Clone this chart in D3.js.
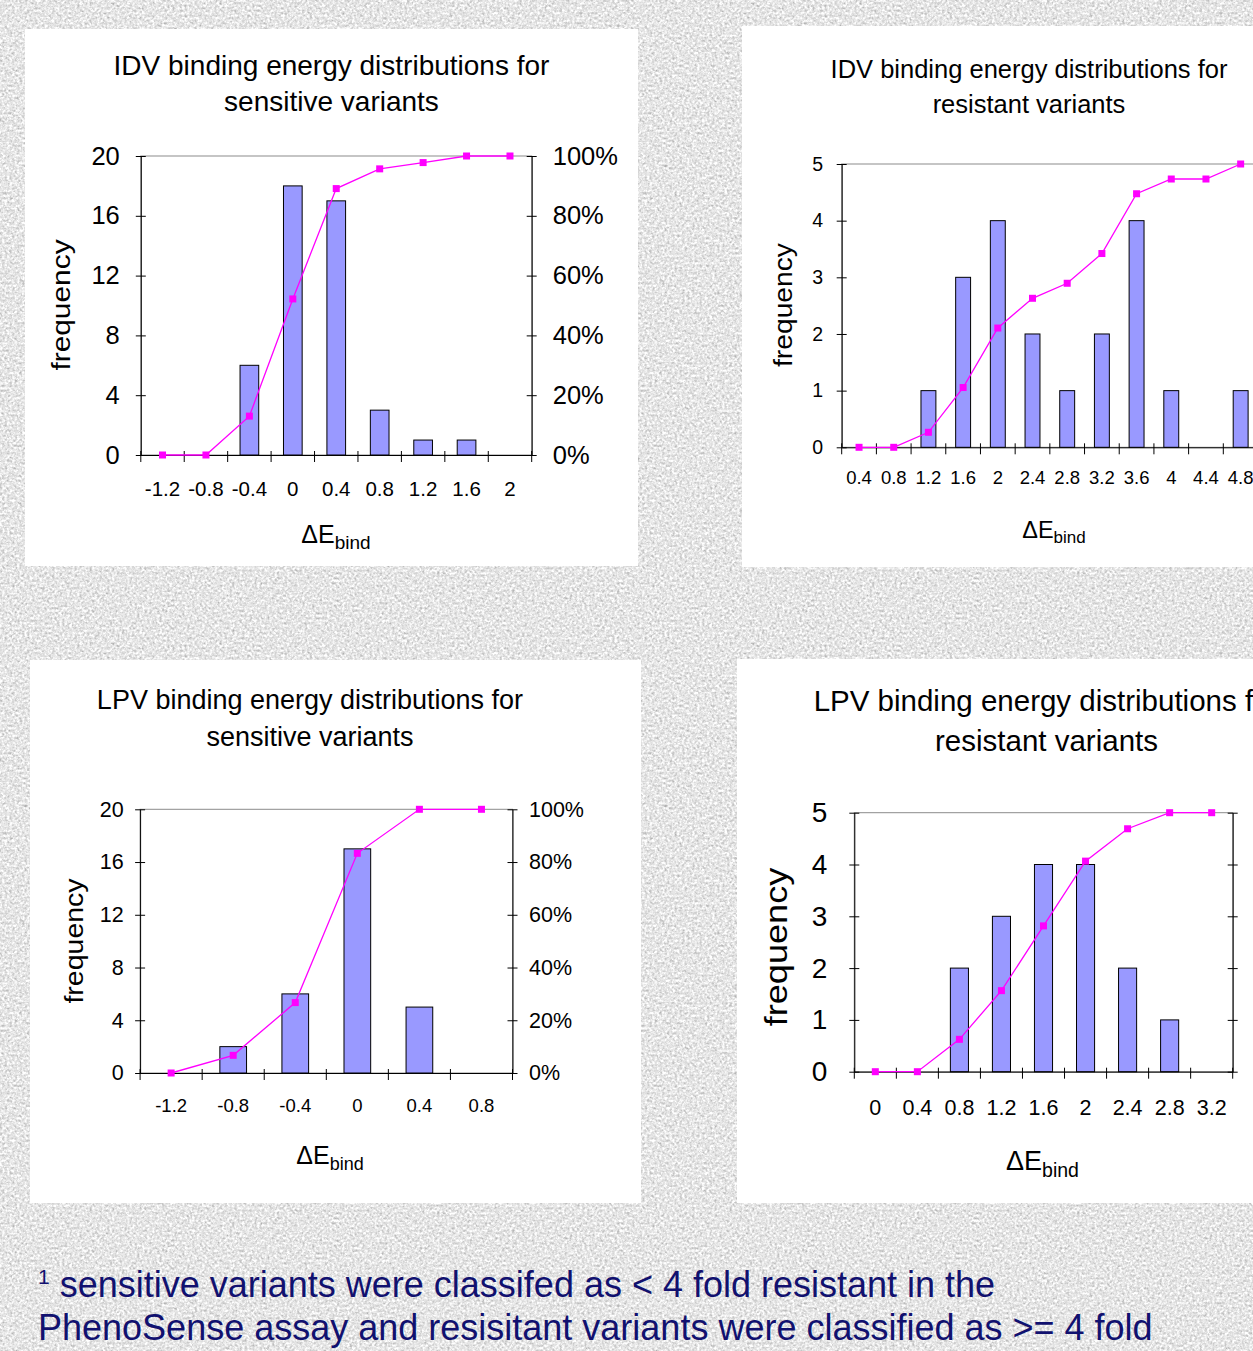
<!DOCTYPE html>
<html>
<head>
<meta charset="utf-8">
<script src="https://cdn.jsdelivr.net/npm/d3@7"></script>
<style>
  body { margin: 0; background: #e6e6e6; }
  svg { display: block; overflow: hidden; }
  text { font-family: "Liberation Sans", Arial, sans-serif; }
</style>
</head>
<body>
<svg id="slide" width="1253" height="1351"></svg>
<script>
// IDV, sensitive variants
const idvSensCats = ['-1.2', '-0.8', '-0.4', '0', '0.4', '0.8', '1.2', '1.6', '2'];
const idvSensFreq = [0, 0, 6, 18, 17, 3, 1, 1, 0];
const idvSensCum  = [0, 0, 13.0, 52.2, 89.1, 95.7, 97.8, 100, 100];

// IDV, resistant variants
const idvResCats = ['0.4', '0.8', '1.2', '1.6', '2', '2.4', '2.8', '3.2', '3.6', '4', '4.4', '4.8'];
const idvResFreq = [0, 0, 1, 3, 4, 2, 1, 2, 4, 1, 0, 1];
const idvResCum  = [0, 0, 5.3, 21.1, 42.1, 52.6, 57.9, 68.4, 89.5, 94.7, 94.7, 100];

// LPV, sensitive variants
const lpvSensCats = ['-1.2', '-0.8', '-0.4', '0', '0.4', '0.8'];
const lpvSensFreq = [0, 2, 6, 17, 5, 0];
const lpvSensCum  = [0, 6.7, 26.7, 83.3, 100, 100];

// LPV, resistant variants
const lpvResCats = ['0', '0.4', '0.8', '1.2', '1.6', '2', '2.4', '2.8', '3.2'];
const lpvResFreq = [0, 0, 2, 3, 4, 4, 2, 1, 0];
const lpvResCum  = [0, 0, 12.5, 31.3, 56.3, 81.3, 93.8, 100, 100];

const freqTicks20 = [0, 4, 8, 12, 16, 20];
const freqTicks5  = [0, 1, 2, 3, 4, 5];
const pctTicks    = [0, 20, 40, 60, 80, 100];

const footLines = [
    'sensitive variants were classifed as < 4 fold resistant in the',
    'PhenoSense assay and resisitant variants were classified as >= 4 fold'
];

const FONT = '"Liberation Sans", Arial, sans-serif';
const BAR = '#9999FF';
const CUM = '#FF00FF';

const svg = d3.select('#slide');

// granite-like slide background
const filt = svg.append('defs').append('filter')
    .attr('id', 'granite')
    .attr('x', 0).attr('y', 0).attr('width', '100%').attr('height', '100%')
    .attr('color-interpolation-filters', 'sRGB');
filt.append('feTurbulence')
    .attr('type', 'fractalNoise')
    .attr('baseFrequency', 0.4)
    .attr('numOctaves', 3)
    .attr('seed', 4);
filt.append('feColorMatrix')
    .attr('type', 'matrix')
    .attr('values', '0.33 0.33 0.33 0 0  0.33 0.33 0.33 0 0  0.33 0.33 0.33 0 0  0 0 0 0 1');
const ct = filt.append('feComponentTransfer');
['feFuncR', 'feFuncG', 'feFuncB'].forEach(f =>
    ct.append(f).attr('type', 'linear').attr('slope', 0.75).attr('intercept', 0.53));
svg.append('rect')
    .attr('width', 1253).attr('height', 1351)
    .attr('filter', 'url(#granite)');

const panels = [
    {
        cats: idvSensCats, freq: idvSensFreq, cum: idvSensCum, yMax: 20, yTicks: freqTicks20,
        title: ['IDV binding energy distributions for', 'sensitive variants'],
        box: [25, 29, 613, 537],
        plot: {l: 140.8, r: 531.7, t: 156, b: 455},
        titleX: 331.5, titleY: [75, 111], titleSize: 28,
        yFont: 25.5, lPad: 16, rPad: 16, showPct: true,
        xFont: 20.5, xPad: 26,
        freqLbl: {x: 62.5, y: 305, size: 26, stretch: 1.15},
        dE: {x: 336, y: 543, s1: 25, s2: 19, shift: 6}
    },
    {
        cats: idvResCats, freq: idvResFreq, cum: idvResCum, yMax: 5, yTicks: freqTicks5,
        title: ['IDV binding energy distributions for', 'resistant variants'],
        box: [742, 26, 600, 541],
        plot: {l: 841.7, r: 1258, t: 164, b: 447.3},
        titleX: 1029, titleY: [78, 113], titleSize: 25.5,
        yFont: 19.5, lPad: 13.5, rPad: 13, showPct: false,
        xFont: 18.5, xPad: 24,
        freqLbl: {x: 785, y: 305, size: 25, stretch: 1.13},
        dE: {x: 1054, y: 538, s1: 23.5, s2: 17, shift: 4.5}
    },
    {
        cats: lpvSensCats, freq: lpvSensFreq, cum: lpvSensCum, yMax: 20, yTicks: freqTicks20,
        title: ['LPV binding energy distributions for', 'sensitive variants'],
        box: [30, 660, 611, 543],
        plot: {l: 140.1, r: 512.5, t: 809.3, b: 1073},
        titleX: 310, titleY: [709, 746], titleSize: 27,
        yFont: 21.5, lPad: 11.5, rPad: 11.5, showPct: true,
        xFont: 18.5, xPad: 26,
        freqLbl: {x: 76.7, y: 941, size: 25, stretch: 1.14},
        dE: {x: 330, y: 1164, s1: 25, s2: 18, shift: 5.5}
    },
    {
        cats: lpvResCats, freq: lpvResFreq, cum: lpvResCum, yMax: 5, yTicks: freqTicks5,
        title: ['LPV binding energy distributions for', 'resistant variants'],
        box: [737, 659, 600, 544],
        plot: {l: 854.3, r: 1232.7, t: 812.7, b: 1071.7},
        titleX: 1046.5, titleY: [711, 751], titleSize: 29.5,
        yFont: 28, lPad: 22, rPad: 14, showPct: false,
        xFont: 21.5, xPad: 28.5,
        freqLbl: {x: 778.3, y: 947, size: 32, stretch: 1.13},
        dE: {x: 1042.5, y: 1170, s1: 27, s2: 19.5, shift: 7}
    }
];

function drawPanel(p) {
    const g = svg.append('g');
    const pl = p.plot;

    g.append('rect')
        .attr('x', p.box[0]).attr('y', p.box[1])
        .attr('width', p.box[2]).attr('height', p.box[3])
        .attr('fill', '#ffffff');

    const x = d3.scaleBand()
        .domain(p.cats)
        .range([pl.l, pl.r])
        .paddingInner(0.57)
        .paddingOuter(0.285);
    const y = d3.scaleLinear().domain([0, p.yMax]).range([pl.b, pl.t]);
    const yPct = d3.scaleLinear().domain([0, 100]).range([pl.b, pl.t]);

    // plot area border
    g.append('rect')
        .attr('x', pl.l).attr('y', pl.t)
        .attr('width', pl.r - pl.l).attr('height', pl.b - pl.t)
        .attr('fill', 'none')
        .attr('stroke', '#8c8c8c')
        .attr('stroke-width', 1);

    // bars
    const rows = p.cats.map((c, i) => ({cat: c, v: p.freq[i], cum: p.cum[i]}));
    g.selectAll('rect.bar')
        .data(rows.filter(d => d.v > 0))
        .join('rect')
        .attr('class', 'bar')
        .attr('x', d => x(d.cat))
        .attr('y', d => y(d.v))
        .attr('width', x.bandwidth())
        .attr('height', d => y(0) - y(d.v))
        .attr('fill', BAR)
        .attr('stroke', '#000')
        .attr('stroke-width', 1);

    // left axis
    const la = g.append('g')
        .attr('transform', `translate(${pl.l},0)`)
        .call(d3.axisLeft(y).tickValues(p.yTicks).tickFormat(d3.format('d'))
            .tickSizeInner(5).tickSizeOuter(0).tickPadding(p.lPad))
        .attr('font-size', p.yFont).attr('font-family', FONT).attr('color', '#000');
    la.selectAll('.tick line').attr('x1', 5);

    // right axis
    const ra = g.append('g')
        .attr('transform', `translate(${pl.r},0)`)
        .call(d3.axisRight(yPct).tickValues(pctTicks).tickSizeInner(5).tickSizeOuter(0)
            .tickPadding(p.rPad).tickFormat(d => d + '%'))
        .attr('font-size', p.yFont).attr('font-family', FONT).attr('color', '#000');
    ra.selectAll('.tick line').attr('x1', -5);
    if (!p.showPct) ra.selectAll('.tick text').remove();

    // bottom axis (labels centred on categories)
    g.append('g')
        .attr('transform', `translate(0,${pl.b})`)
        .call(d3.axisBottom(x).tickSize(0).tickPadding(p.xPad))
        .attr('font-size', p.xFont).attr('font-family', FONT).attr('color', '#000');

    // tick marks between categories
    const step = x.step();
    const bounds = p.cats.map(c => x(c) + x.bandwidth() / 2 - step / 2).concat([pl.r]);
    g.selectAll('line.xtick')
        .data(bounds)
        .join('line')
        .attr('class', 'xtick')
        .attr('x1', d => d).attr('x2', d => d)
        .attr('y1', pl.b - 4).attr('y2', pl.b + 7)
        .attr('stroke', '#000');

    // cumulative %
    const line = d3.line()
        .x(d => x(d.cat) + x.bandwidth() / 2)
        .y(d => yPct(d.cum));
    g.append('path')
        .datum(rows)
        .attr('d', line)
        .attr('fill', 'none')
        .attr('stroke', CUM)
        .attr('stroke-width', 1.3);
    g.selectAll('rect.mark')
        .data(rows)
        .join('rect')
        .attr('class', 'mark')
        .attr('x', d => x(d.cat) + x.bandwidth() / 2 - 3.5)
        .attr('y', d => yPct(d.cum) - 3.5)
        .attr('width', 7).attr('height', 7)
        .attr('fill', CUM);

    // title
    p.title.forEach((t, i) => {
        g.append('text')
            .attr('x', p.titleX).attr('y', p.titleY[i])
            .attr('text-anchor', 'middle')
            .attr('font-size', p.titleSize)
            .attr('fill', '#000')
            .text(t);
    });

    // y label
    const fl = p.freqLbl;
    g.append('text')
        .attr('transform', `translate(${fl.x},${fl.y}) rotate(-90) scale(${fl.stretch},1)`)
        .attr('text-anchor', 'middle')
        .attr('dy', '0.27em')
        .attr('font-size', fl.size)
        .attr('fill', '#000')
        .text('frequency');

    // x label: ΔE_bind
    const de = g.append('text')
        .attr('x', p.dE.x).attr('y', p.dE.y)
        .attr('text-anchor', 'middle')
        .attr('fill', '#000');
    de.append('tspan').attr('font-size', p.dE.s1).text('ΔE');
    de.append('tspan').attr('font-size', p.dE.s2).attr('dy', p.dE.shift).text('bind');
}

panels.forEach(drawPanel);

// footnote
const foot = svg.append('g')
    .attr('fill', '#11116f')
    .attr('font-family', FONT);
const f1 = foot.append('text')
    .attr('x', 38).attr('y', 1297)
    .style('white-space', 'pre');
f1.append('tspan').attr('font-size', 21).attr('dy', -13).text('1');
f1.append('tspan').attr('font-size', 36).attr('dy', 13).text(' ' + footLines[0]);
foot.append('text')
    .attr('x', 38).attr('y', 1340)
    .attr('font-size', 36)
    .text(footLines[1]);
</script>
</body>
</html>
